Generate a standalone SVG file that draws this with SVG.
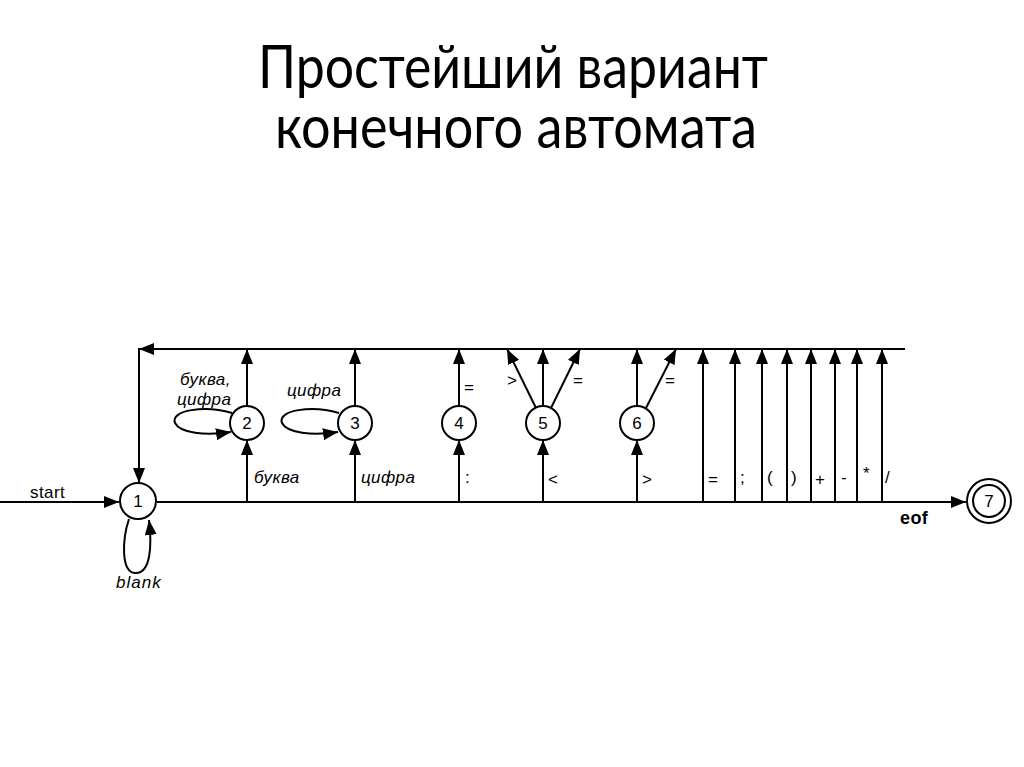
<svg xmlns="http://www.w3.org/2000/svg" width="1024" height="767" viewBox="0 0 1024 767">
<style>
.title{font-family:Lato,"Open Sans","Liberation Sans",sans-serif;font-size:60px;fill:#000;text-anchor:middle}
.t{font-family:"Liberation Sans",Arial,sans-serif;font-size:17px;fill:#000;letter-spacing:0.4px}
.i{font-style:italic}
.n{text-anchor:middle;letter-spacing:0}
.b{font-weight:bold}
.e{fill:none;stroke:#000;stroke-width:2}
.a{marker-end:url(#ah)}
.node{fill:#fff;stroke:#000;stroke-width:2}
</style>
<defs>
<marker id="ah" markerUnits="userSpaceOnUse" markerWidth="16" markerHeight="12" refX="15" refY="6" orient="auto">
<path d="M0,0 L15,6 L0,12 Z" fill="#000"/>
</marker>
</defs>
<rect width="1024" height="767" fill="#fff"/>
<text class="title" x="513" y="88" textLength="510" lengthAdjust="spacingAndGlyphs">Простейший вариант</text>
<text class="title" x="516" y="148" textLength="482" lengthAdjust="spacingAndGlyphs">конечного автомата</text>

<g id="connectors">
<line class="e a" x1="905" y1="349" x2="139" y2="349"/>
<line class="e a" x1="139" y1="348" x2="139" y2="483"/>
<line class="e a" x1="0" y1="502" x2="119" y2="502"/>
<line class="e a" x1="157" y1="502" x2="966" y2="502"/>
<path class="e a" d="M129,519 C122,540 121,572 135,573 C151,574 152,545 149,520"/>
<path class="e a" d="M232,413 C205,405 170,410 175,423 C180,433 205,436 231,432"/>
<path class="e a" d="M339,413 C312,405 277,410 282,423 C287,433 312,436 338,432"/>
<line class="e a" x1="247" y1="502" x2="247" y2="440"/>
<line class="e a" x1="247" y1="406" x2="247" y2="349"/>
<line class="e a" x1="355" y1="502" x2="355" y2="440"/>
<line class="e a" x1="355" y1="406" x2="355" y2="349"/>
<line class="e a" x1="459" y1="502" x2="459" y2="440"/>
<line class="e a" x1="459" y1="406" x2="459" y2="349"/>
<line class="e a" x1="543" y1="502" x2="543" y2="440"/>
<line class="e a" x1="543" y1="406" x2="543" y2="349"/>
<line class="e a" x1="536" y1="408" x2="507" y2="349"/>
<line class="e a" x1="551" y1="408" x2="580" y2="349"/>
<line class="e a" x1="637" y1="502" x2="637" y2="440"/>
<line class="e a" x1="637" y1="406" x2="637" y2="349"/>
<line class="e a" x1="646" y1="408" x2="676" y2="349"/>
<line class="e a" x1="703" y1="502" x2="703" y2="349"/>
<line class="e a" x1="735" y1="502" x2="735" y2="349"/>
<line class="e a" x1="762" y1="502" x2="762" y2="349"/>
<line class="e a" x1="787" y1="502" x2="787" y2="349"/>
<line class="e a" x1="811" y1="502" x2="811" y2="349"/>
<line class="e a" x1="835" y1="502" x2="835" y2="349"/>
<line class="e a" x1="857" y1="502" x2="857" y2="349"/>
<line class="e a" x1="882" y1="502" x2="882" y2="349"/>
</g>

<g id="labels">
<text class="t" x="30" y="498">start</text>
<text class="t i" x="116" y="588" style="letter-spacing:1px">blank</text>
<text class="t i" x="180" y="385">буква,</text>
<text class="t i" x="177" y="405">цифра</text>
<text class="t i" x="287" y="396">цифра</text>
<text class="t i" x="254" y="483">буква</text>
<text class="t i" x="361" y="483">цифра</text>
<text class="t" x="465" y="483">:</text>
<text class="t" x="548" y="485">&lt;</text>
<text class="t" x="642" y="485">&gt;</text>
<text class="t" x="464" y="393">=</text>
<text class="t" x="507" y="386">&gt;</text>
<text class="t" x="573" y="386">=</text>
<text class="t" x="665" y="386">=</text>
<text class="t" x="708" y="485">=</text>
<text class="t" x="740" y="483">;</text>
<text class="t" x="767" y="483">(</text>
<text class="t" x="791" y="483">)</text>
<text class="t" x="815" y="485">+</text>
<text class="t" x="841" y="483">-</text>
<text class="t" x="863" y="479">*</text>
<text class="t" x="885" y="483">/</text>
<text class="t b" x="900" y="524" style="font-size:18px">eof</text>
</g>

<g id="node1"><circle class="node" cx="138" cy="501" r="18"/><text class="t n" x="138" y="507">1</text></g>
<g id="node2"><circle class="node" cx="247" cy="423" r="17"/><text class="t n" x="247" y="429">2</text></g>
<g id="node3"><circle class="node" cx="355" cy="423" r="17"/><text class="t n" x="355" y="429">3</text></g>
<g id="node4"><circle class="node" cx="459" cy="423" r="17"/><text class="t n" x="459" y="429">4</text></g>
<g id="node5"><circle class="node" cx="543" cy="423" r="17"/><text class="t n" x="543" y="429">5</text></g>
<g id="node6"><circle class="node" cx="637" cy="423" r="17"/><text class="t n" x="637" y="429">6</text></g>
<g id="node7"><circle class="node" cx="989" cy="501" r="22"/><circle class="node" cx="989" cy="501" r="16"/><text class="t n" x="989" y="507">7</text></g>
</svg>
